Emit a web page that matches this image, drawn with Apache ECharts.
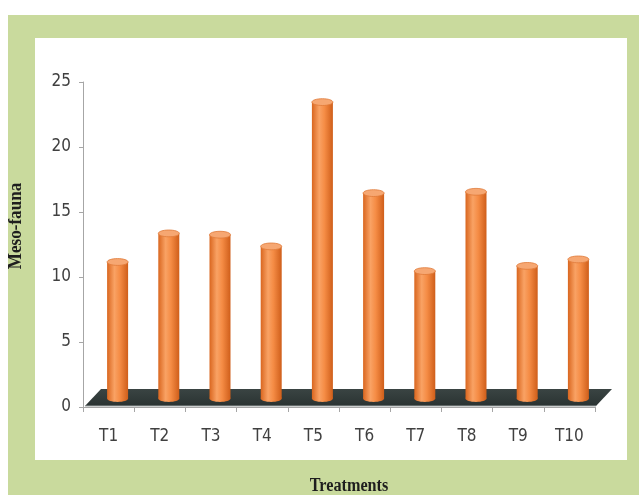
<!DOCTYPE html>
<html>
<head>
<meta charset="utf-8">
<script src="https://cdn.jsdelivr.net/npm/echarts@6/dist/echarts.min.js"></script>
<style>
  html, body { margin: 0; padding: 0; background: #fff; }
  #main { width: 639px; height: 495px; }
</style>
</head>
<body>
<div id="main"></div>
<script>
// data
var categories = ['T1', 'T2', 'T3', 'T4', 'T5', 'T6', 'T7', 'T8', 'T9', 'T10'];
var mesoFauna = [10.5, 12.7, 12.6, 11.7, 22.8, 15.8, 9.8, 15.9, 10.2, 10.7];
var yTicks = [0, 5, 10, 15, 20, 25];

// fake 3d floor depth
var DX = 16, DY = 17;
var labelFont = "'Liberation Sans Narrow', 'DejaVu Sans Condensed', sans-serif";
var titleFont = "bold 18px 'Liberation Serif', serif";

var chart = echarts.init(document.getElementById('main'));

var bodyFill = new echarts.graphic.LinearGradient(0, 0, 1, 0, [
  { offset: 0, color: '#d9661f' },
  { offset: 0.35, color: '#f9a264' },
  { offset: 0.6, color: '#f58c45' },
  { offset: 1, color: '#cf5e1a' }
]);

function renderFloor (params, api) {
  var cs = params.coordSys;
  var y0 = api.coord([0, 0])[1] - 1;
  var x0 = cs.x + 2, x1 = cs.x + cs.width + 1;
  return {
    type: 'group',
    children: [{
      type: 'polygon',
      shape: { points: [[x0, y0], [x0 + DX, y0 - DY], [x1 + DX, y0 - DY], [x1, y0]] },
      style: {
        fill: new echarts.graphic.LinearGradient(0, 0, 0, 1, [
          { offset: 0, color: '#3a4443' },
          { offset: 1, color: '#2a3332' }
        ])
      }
    }, {
      type: 'line',
      shape: { x1: x0, y1: y0, x2: x1, y2: y0 },
      style: { stroke: '#9aa0a0', lineWidth: 1 }
    }]
  };
}

function renderCylinder (params, api) {
  var idx = api.value(0);
  var base = api.coord([idx, 0]);
  var top = api.coord([idx, api.value(1)]);
  var w = api.size([1, 0])[0] * 0.41;
  var cx = base[0] + 9;
  var yb = base[1] - DY / 2;
  var yt = top[1] - DY / 2;
  var ry = 3.4;
  return {
    type: 'group',
    children: [
      { type: 'ellipse', shape: { cx: cx, cy: yb, rx: w / 2, ry: ry }, style: { fill: bodyFill } },
      { type: 'rect', shape: { x: cx - w / 2, y: yt, width: w, height: yb - yt }, style: { fill: bodyFill } },
      { type: 'ellipse', shape: { cx: cx, cy: yt, rx: w / 2, ry: ry },
        style: { fill: '#f6a772', stroke: '#e07a38', lineWidth: 0.8 } }
    ]
  };
}

var option = {
  backgroundColor: '#ffffff',
  animation: false,
  graphic: [
    { type: 'rect', z: -10, shape: { x: 8, y: 15, width: 631, height: 480 }, style: { fill: '#c9da9d' } },
    { type: 'rect', z: -9, shape: { x: 35, y: 38, width: 592, height: 422 }, style: { fill: '#ffffff' } },
    { type: 'text', z: 10, x: 349, y: 486, scaleX: 0.9,
      style: { text: 'Treatments', font: titleFont, fill: '#1e1e1e', align: 'center', verticalAlign: 'middle' } },
    { type: 'text', z: 10, x: 16, y: 226, rotation: Math.PI / 2, scaleX: 0.95,
      style: { text: 'Meso-fauna', font: titleFont, fill: '#1e1e1e', align: 'center', verticalAlign: 'middle' } }
  ],
  grid: { left: 83, right: 44, top: 82, bottom: 88, containLabel: false },
  xAxis: {
    type: 'category',
    data: categories,
    axisLine: { lineStyle: { color: '#a6a6a6' } },
    axisTick: { show: true, length: 5, lineStyle: { color: '#a6a6a6' } },
    axisLabel: { margin: 21, fontSize: 17, fontFamily: labelFont, color: '#404040' }
  },
  yAxis: {
    type: 'value',
    min: yTicks[0],
    max: yTicks[yTicks.length - 1],
    interval: yTicks[1] - yTicks[0],
    axisLine: { show: true, lineStyle: { color: '#a6a6a6' } },
    axisTick: { show: true, length: 4, lineStyle: { color: '#a6a6a6' } },
    splitLine: { show: false },
    axisLabel: { margin: 12, fontSize: 17, fontFamily: labelFont, color: '#404040' }
  },
  series: [{
    type: 'custom',
    renderItem: renderFloor,
    data: [[0, 0]],
    silent: true
  }, {
    type: 'custom',
    renderItem: renderCylinder,
    encode: { x: 0, y: 1 },
    data: mesoFauna.map(function (v, i) { return [i, v]; })
  }]
};

chart.setOption(option);
</script>
</body>
</html>
